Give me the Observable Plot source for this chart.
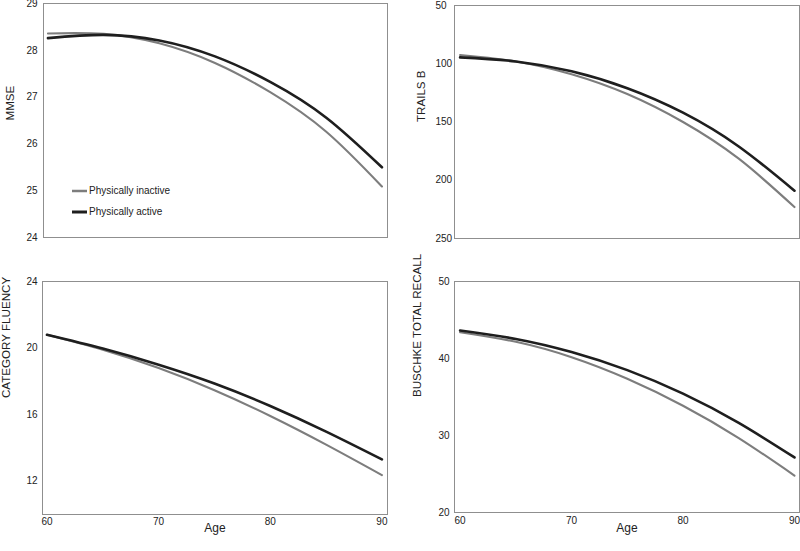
<!DOCTYPE html>
<html>
<head>
<meta charset="utf-8">
<script src="https://cdn.jsdelivr.net/npm/d3@7"></script>
<script src="https://cdn.jsdelivr.net/npm/@observablehq/plot@0.6"></script>
<style>
  html, body { margin: 0; padding: 0; background: #fff; }
  #chart { position: relative; width: 800px; height: 551px; overflow: hidden; font-family: "Liberation Sans", Arial, sans-serif; }
  .quad { position: absolute; }
  .quad svg { overflow: visible; }
  #legend { position: absolute; left: 72px; top: 180px; font-size: 10px; color: #222; }
  #legend .row { display: flex; align-items: center; height: 21px; }
  #legend svg { margin-right: 2px; }
</style>
</head>
<body>
<div id="chart"></div>
<script>
// ---- data ----
const ages = [60, 65, 70, 75, 80, 85, 90];
const groups = ["Physically inactive", "Physically active"];

const mmseInactive = [28.36, 28.35, 28.15, 27.73, 27.10, 26.26, 25.09];
const mmseActive   = [28.26, 28.33, 28.21, 27.87, 27.32, 26.56, 25.50];

const trailsInactive = [92.5, 98, 109, 126, 150, 181.5, 223];
const trailsActive   = [94.5, 98, 106.5, 121, 142, 171, 209];

const fluencyInactive = [20.8, 19.9, 18.8, 17.47, 15.92, 14.2, 12.37];
const fluencyActive   = [20.8, 19.97, 19.0, 17.87, 16.52, 14.98, 13.31];

const buschkeInactive = [43.42, 42.17, 40.17, 37.37, 33.87, 29.67, 24.8];
const buschkeActive   = [43.64, 42.54, 40.84, 38.49, 35.44, 31.64, 27.15];

const mmseTicks = [24, 25, 26, 27, 28, 29];
const trailsTicks = [50, 100, 150, 200, 250];
const fluencyTicks = [12, 16, 20, 24];
const buschkeTicks = [20, 30, 40, 50];
const ageTicks = [60, 70, 80, 90];

const colors = {"Physically inactive": "#7d7d7d", "Physically active": "#1e1e1e"};
const widths = {"Physically inactive": 2.1, "Physically active": 2.6};

function rowsOf(inactive, active) {
  const rows = [];
  ages.forEach((a, i) => rows.push({age: a, value: inactive[i], group: groups[0]}));
  ages.forEach((a, i) => rows.push({age: a, value: active[i], group: groups[1]}));
  return rows;
}

function panel(o) {
  const rows = rowsOf(o.inactive, o.active);
  const marks = [
    Plot.frame({stroke: "#8f8f8f", strokeWidth: 1}),
    ...groups.map(g => Plot.line(rows.filter(r => r.group === g), {
      x: "age", y: "value", stroke: colors[g], strokeWidth: widths[g], curve: "natural"
    })),
    Plot.text(o.yTicks, {y: d => d, frameAnchor: "left", textAnchor: o.tickAnchor, dx: o.tickDx, fontSize: 10, fill: "#222"}),
    Plot.text([o.yLabel], {frameAnchor: "left", rotate: -90, dx: o.labelDx, fontSize: 11.6, fill: "#222"})
  ];
  if (o.showX) {
    marks.push(Plot.text(ageTicks, {x: d => d, frameAnchor: "bottom", dy: o.xTickDy, fontSize: 10, fill: "#222"}));
    marks.push(Plot.text(["Age"], {frameAnchor: "bottom", dy: o.xLabelDy, fontSize: 12, fill: "#222"}));
  }
  const svg = Plot.plot({
    width: o.width, height: o.height,
    marginLeft: o.mL, marginRight: o.mR, marginTop: o.mT, marginBottom: o.mB,
    x: {domain: o.xDomain, axis: null},
    y: {domain: o.yDomain, reverse: !!o.reverse, axis: null},
    style: {fontFamily: "\"Liberation Sans\", Arial, sans-serif", background: "transparent", overflow: "visible"},
    marks
  });
  const div = document.createElement("div");
  div.className = "quad";
  div.style.left = o.left + "px";
  div.style.top = o.top + "px";
  div.appendChild(svg);
  document.getElementById("chart").appendChild(div);
}

panel({left: 0, top: 0, width: 400, height: 270, mL: 43, mR: 13, mT: 3, mB: 33,
  xDomain: [59.6, 90.5], yDomain: [24, 29], yTicks: mmseTicks, yLabel: "MMSE",
  inactive: mmseInactive, active: mmseActive, tickAnchor: "end", tickDx: -6, labelDx: -33});

panel({left: 400, top: 0, width: 400, height: 270, mL: 54, mR: 1, mT: 5, mB: 32,
  xDomain: [59.5, 90.45], yDomain: [50, 250], reverse: true, yTicks: trailsTicks, yLabel: "TRAILS B",
  inactive: trailsInactive, active: trailsActive, tickAnchor: "start", tickDx: -19, labelDx: -33});

panel({left: 0, top: 270, width: 400, height: 281, mL: 42, mR: 13, mT: 11, mB: 37,
  xDomain: [59.6, 90.5], yDomain: [10, 24], yTicks: fluencyTicks, yLabel: "CATEGORY FLUENCY",
  inactive: fluencyInactive, active: fluencyActive, tickAnchor: "end", tickDx: -5, labelDx: -36,
  showX: true, xTickDy: 10, xLabelDy: 17});

panel({left: 400, top: 270, width: 400, height: 281, mL: 54, mR: 1, mT: 11, mB: 39,
  xDomain: [59.5, 90.45], yDomain: [20, 50], yTicks: buschkeTicks, yLabel: "BUSCHKE TOTAL RECALL",
  inactive: buschkeInactive, active: buschkeActive, tickAnchor: "end", tickDx: -5, labelDx: -37,
  showX: true, xTickDy: 11, xLabelDy: 19});

// legend
const legend = document.createElement("div");
legend.id = "legend";
groups.forEach(g => {
  const row = document.createElement("div");
  row.className = "row";
  row.innerHTML = `<svg width="15" height="6"><line x1="0" x2="15" y1="3" y2="3" stroke="${colors[g]}" stroke-width="${widths[g] + 0.4}"/></svg><span>${g}</span>`;
  legend.appendChild(row);
});
document.getElementById("chart").appendChild(legend);
</script>
</body>
</html>
